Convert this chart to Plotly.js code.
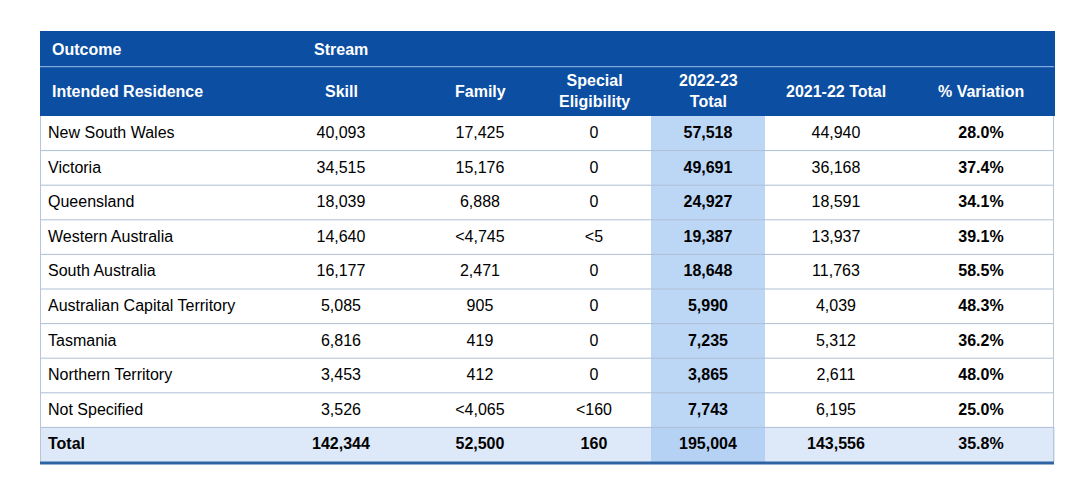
<!DOCTYPE html>
<html>
<head>
<meta charset="utf-8">
<script src="https://cdn.plot.ly/plotly-3.0.1.min.js"></script>
<style>html,body{margin:0;padding:0;background:#fff;}#chart{width:1080px;height:477px;}</style>
</head>
<body>
<div id="chart"></div>
<script>
// ---- data ----
const topHeader = ['Outcome', 'Stream', '', '', '', '', ''];
const columnHeaders = ['Intended Residence', 'Skill', 'Family', 'Special<br>Eligibility', '2022-23<br>Total', '2021-22 Total', '% Variation'];
const regions = ['New South Wales', 'Victoria', 'Queensland', 'Western Australia', 'South Australia',
  'Australian Capital Territory', 'Tasmania', 'Northern Territory', 'Not Specified'];
const skill = [40093, 34515, 18039, 14640, 16177, 5085, 6816, 3453, 3526];
const family = [17425, 15176, 6888, '<4,745', 2471, 905, 419, 412, '<4,065'];
const special = [0, 0, 0, '<5', 0, 0, 0, 0, '<160'];
const total2223 = [57518, 49691, 24927, 19387, 18648, 5990, 7235, 3865, 7743];
const total2122 = [44940, 36168, 18591, 13937, 11763, 4039, 5312, 2611, 6195];
const variation = [28.0, 37.4, 34.1, 39.1, 58.5, 48.3, 36.2, 48.0, 25.0];
const totalRow = ['Total', 142344, 52500, 160, 195004, 143556, 35.8];

// ---- formatting ----
function fmt(v) {
  if (typeof v === 'number') return v.toLocaleString('en-US');
  return String(v).replace(/</g, '&lt;');
}
function pct(v) { return v.toFixed(1) + '%'; }
function b(s) { return '<b>' + s + '</b>'; }
function r(s) { return '<span>' + s + '</span>'; }

const cols = [
  regions.map(v => r(fmt(v))),
  skill.map(v => r(fmt(v))),
  family.map(v => r(fmt(v))),
  special.map(v => r(fmt(v))),
  total2223.map(v => b(fmt(v))),
  total2122.map(v => r(fmt(v))),
  variation.map(v => b(pct(v)))
];
totalRow.forEach((v, i) => {
  cols[i].push(b(i === 6 ? pct(v) : fmt(v)));
});

const nRows = regions.length + 1;
const BLUE = '#0b4ea2';
const HL = '#bcd7f6', HLT = '#b5d2f4', TOT = '#dde9f8';
const fills = cols.map((c, i) => c.map((_, r) => {
  if (i === 4) return r === nRows - 1 ? HLT : HL;
  return r === nRows - 1 ? TOT : '#ffffff';
}));

// ---- layout geometry (pixels) ----
const W = 1080, H = 477;
const X0 = 40, X1 = 1055;
const TOP = 31, SEP = 66.7, HEAD_END = 116, ROW_H = 34.6;
const widths = [219, 164, 114, 114, 114, 142, 148];
const py = y => 1 - y / H;
const px = x => x / W;
const fontFam = '"Liberation Sans", Arial, Helvetica, sans-serif';

const traceMain = {
  type: 'table',
  domain: {x: [px(X0), px(X1)], y: [0, py(TOP)]},
  columnwidth: widths,
  header: {
    values: widths.map(() => ''),
    fill: {color: BLUE},
    line: {color: BLUE, width: 0},
    height: HEAD_END - TOP,
    font: {family: fontFam, size: 16, color: '#ffffff'}
  },
  cells: {
    values: cols,
    align: ['left', 'center', 'center', 'center', 'center', 'center', 'center'],
    fill: {color: fills},
    line: {color: '#ffffff', width: 0},
    height: ROW_H,
    font: {family: fontFam, size: 16, color: '#000000'}
  }
};

// column centres for header labels
const totalW = widths.reduce((a, c) => a + c, 0);
const edges = [X0];
widths.forEach(w => edges.push(edges[edges.length - 1] + w * (X1 - X0) / totalW));
const centres = widths.map((_, i) => (edges[i] + edges[i + 1]) / 2);

const annotations = [];
const hFont = {family: fontFam, size: 16, color: '#ffffff', weight: 'bold'};
topHeader.forEach((t, i) => {
  if (!t) return;
  annotations.push({
    xref: 'paper', yref: 'paper', showarrow: false, text: t, font: hFont,
    x: i === 0 ? px(X0 + 10) : px(centres[i]), xanchor: i === 0 ? 'left' : 'center',
    y: py((TOP + SEP) / 2 + 1), yanchor: 'middle'
  });
});
columnHeaders.forEach((t, i) => {
  annotations.push({
    xref: 'paper', yref: 'paper', showarrow: false, text: t, font: hFont, align: 'center',
    x: i === 0 ? px(X0 + 10) : px(centres[i]), xanchor: i === 0 ? 'left' : 'center',
    y: py((SEP + HEAD_END) / 2), yanchor: 'middle'
  });
});

// separators
const shapes = [];
const lineCol = '#aebfd6';
for (let r = 1; r < nRows; r++) {
  const y = HEAD_END + r * ROW_H;
  shapes.push({type: 'line', xref: 'paper', yref: 'paper', x0: px(X0), x1: px(X1 - 1), y0: py(y), y1: py(y),
    line: {color: lineCol, width: 1}});
}
const bottom = HEAD_END + nRows * ROW_H;
shapes.push({type: 'line', xref: 'paper', yref: 'paper', x0: px(X0 + 0.5), x1: px(X0 + 0.5), y0: py(HEAD_END), y1: py(bottom),
  line: {color: '#b9c6d6', width: 1}});
shapes.push({type: 'line', xref: 'paper', yref: 'paper', x0: px(X1 - 1.5), x1: px(X1 - 1.5), y0: py(HEAD_END), y1: py(bottom),
  line: {color: '#b9c6d6', width: 1}});
shapes.push({type: 'line', xref: 'paper', yref: 'paper', x0: px(X0), x1: px(X1 - 1), y0: py(SEP), y1: py(SEP),
  line: {color: '#9fc0ea', width: 1}});
shapes.push({type: 'line', xref: 'paper', yref: 'paper', x0: px(X0), x1: px(X1 - 1), y0: py(bottom + 1), y1: py(bottom + 1),
  line: {color: '#2f64a3', width: 3}});

const layout = {
  width: W, height: H,
  margin: {l: 0, r: 0, t: 0, b: 0},
  paper_bgcolor: '#ffffff',
  shapes: shapes,
  annotations: annotations,
  showlegend: false
};

Plotly.newPlot('chart', [traceMain], layout, {displayModeBar: false, staticPlot: true});
</script>
</body>
</html>
